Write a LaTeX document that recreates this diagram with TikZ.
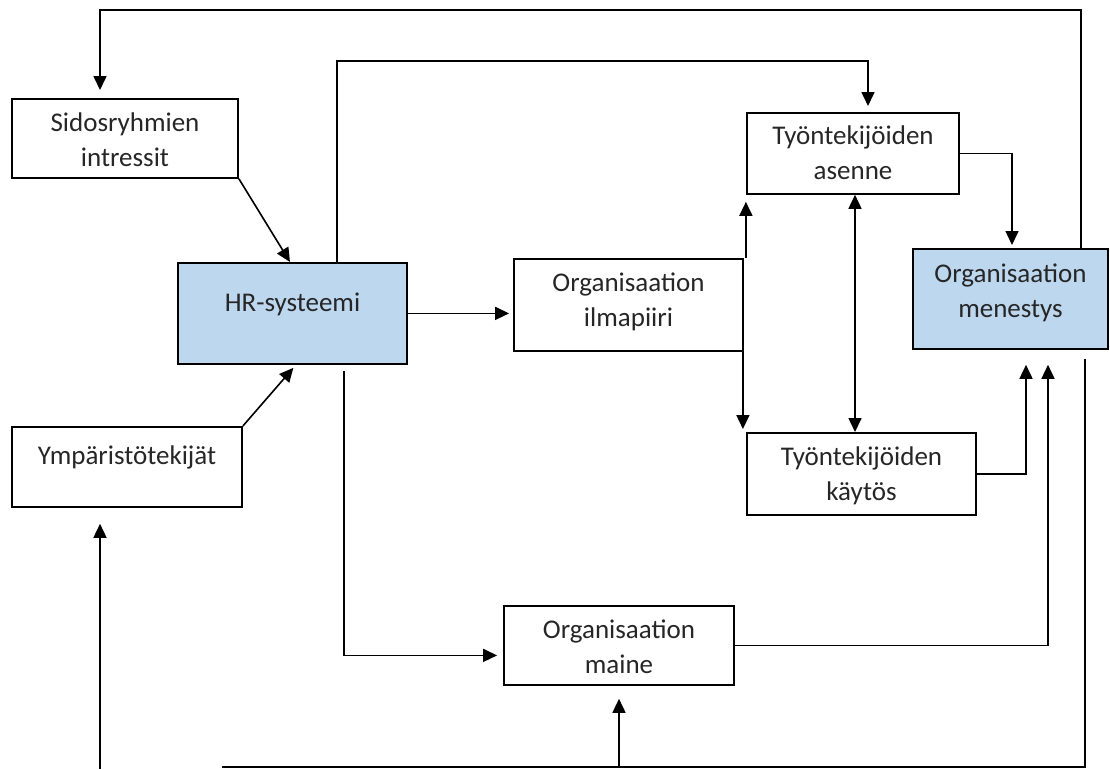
\documentclass[tikz,border=0pt]{standalone}
\usepackage{fontspec}
\setmainfont{Carlito}
\usepackage{tikz}
\usetikzlibrary{arrows.meta}
\definecolor{hrblue}{RGB}{189,215,238}
\newcommand{\diagfont}{\fontsize{27pt}{35pt}\selectfont}
\tikzset{
    x=1pt, y=-1pt, % pixel grid, y grows downwards
    >={Triangle[length=14pt, width=13pt]}, % filled arrow heads
    box/.style={draw, line width=1.8pt, anchor=north, align=center, inner sep=0pt,
                text height=68pt, font=\diagfont, text=black!85}, % every box, two lines
    link/.style={line width=1.6pt}, % every connector
}

\begin{document}
\begin{tikzpicture}
        \useasboundingbox (0,0) rectangle (1110,769);

        % boxes
        \node[box, minimum width=226pt, text depth=11pt] (sidos) at (125,98) {Sidosryhmien\\intressit};
        \node[box, fill=hrblue, minimum width=229pt, text height=49pt, text depth=52pt] (hr) at (292.5,262) {HR-systeemi};
        \node[box, minimum width=230pt, text height=38pt, text depth=42pt] (ymp) at (127,426) {Ympäristötekijät};
        \node[box, minimum width=229pt, text depth=24pt] (ilma) at (628.5,258) {Organisaation\\ilmapiiri};
        \node[box, minimum width=212pt, text height=67pt, text depth=14pt] (asenne) at (853,112) {Työntekijöiden\\asenne};
        \node[box, fill=hrblue, minimum width=195pt, text height=69pt, text depth=31pt] (menestys) at (1010.5,248) {Organisaation\\menestys};
        \node[box, minimum width=229pt, text depth=14pt] (kaytos) at (861.5,432) {Työntekijöiden\\käytös};
        \node[box, minimum width=230pt, text depth=11pt] (maine) at (619,605) {Organisaation\\maine};

        % helper rows and loose ends
        \coordinate (toprow) at (0,10);
        \coordinate (hrrow) at (0,61);
        \coordinate (botrow) at (0,767);
        \coordinate (botend) at (222,767);
        \coordinate (ympfoot) at (100,769);

        % draw connectors
        \draw[link, ->, shorten >=8pt] ([xshift=70.5pt]menestys.north) -- ([xshift=70.5pt]menestys.north |- toprow)
                -| ([xshift=-25pt]sidos.north);
        \draw[link, ->, shorten >=6pt] ([xshift=44.5pt]hr.north) -- ([xshift=44.5pt]hr.north |- hrrow)
                -| ([xshift=15pt]asenne.north);

        \draw[link, ->] (sidos.south east) -- ([xshift=-2.5pt]hr.north);
        \draw[link, ->, shorten >=4pt] (ymp.north east) -- ([xshift=3.5pt]hr.south);
        \draw[link, ->, shorten >=4pt] (hr.east) -- (hr.east -| ilma.west);
        \draw[link, ->, shorten >=7pt] ([xshift=2pt]ilma.north east) -- ([xshift=2pt]ilma.north east |- asenne.south);
        \draw[link, ->, shorten >=3pt] ([xshift=-1pt]ilma.south east) -- ([xshift=-1pt]ilma.south east |- kaytos.north);
        \draw[link, <->] ([xshift=2pt]asenne.south) -- ([xshift=2pt]asenne.south |- kaytos.north);

        \draw[link, ->, shorten >=3pt] (asenne.east) -| ([xshift=1.5pt]menestys.north);
        \draw[link, ->, shorten >=15pt] (kaytos.east) -| ([xshift=15.5pt]menestys.south);
        \draw[link, ->, shorten >=15pt] (maine.east) -| ([xshift=37.5pt]menestys.south);
        \draw[link, ->, shorten >=6pt] ([xshift=51.5pt, yshift=-6pt]hr.south) |- ([yshift=-10pt]maine.west);

        % bottom feedback line
        \draw[link] ([xshift=74.5pt, yshift=-9pt]menestys.south) |- (botend);
        \draw[link, ->, shorten >=13pt] (maine.south |- botrow) -- (maine.south);
        \draw[link, ->, shorten >=16pt] (ympfoot) -- (ympfoot |- ymp.south);
\end{tikzpicture}
\end{document}
